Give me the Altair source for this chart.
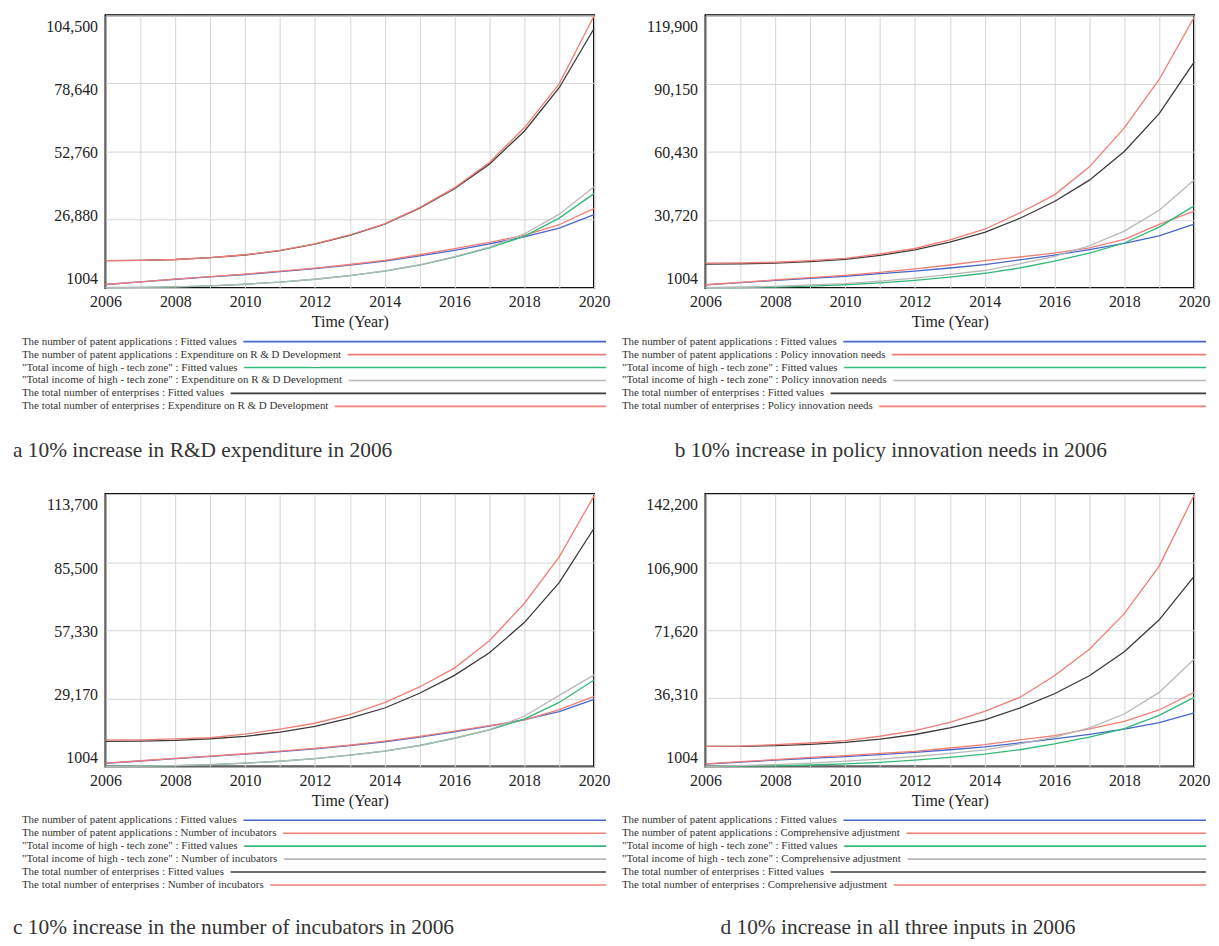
import altair as alt
import pandas as pd

# ---------------- data ----------------
years = list(range(2006, 2021))

patent_fitted = [2300, 3300, 4300, 5200, 6100, 7200, 8300, 9700, 11200, 13200, 15300, 17700, 20400, 23700, 28800]
income_fitted = [1100, 1200, 1400, 1800, 2400, 3200, 4300, 5700, 7400, 9700, 12700, 16200, 20600, 27500, 36800]
enterprises_fitted = [11400, 11500, 11800, 12500, 13500, 15200, 17600, 21000, 25200, 31300, 38700, 48000, 60500, 77000, 99500]

# a: R&D expenditure
patent_a = [2300, 3300, 4350, 5300, 6250, 7350, 8500, 9900, 11500, 13600, 15900, 18300, 21000, 25000, 31200]
income_a = [1100, 1200, 1400, 1800, 2400, 3200, 4300, 5700, 7500, 9800, 12900, 16500, 21500, 29000, 39400]
enterprises_a = [11400, 11500, 11800, 12500, 13600, 15300, 17700, 21100, 25300, 31500, 39000, 48600, 61800, 78500, 104300]

# b: policy innovation needs
patent_b = [2400, 3400, 4500, 5500, 6500, 7800, 9300, 11000, 12900, 14500, 16200, 18500, 22200, 28700, 34500]
income_b = [1100, 1300, 1700, 2300, 2900, 4000, 5300, 6900, 8600, 11500, 14800, 19400, 25800, 34900, 48100]
enterprises_b = [11800, 11900, 12200, 12900, 13900, 15800, 18200, 22000, 26600, 33700, 41600, 53800, 70800, 91900, 119000]

# c: number of incubators
patent_c = [2400, 3400, 4400, 5300, 6300, 7400, 8500, 9900, 11500, 13500, 15600, 17900, 20200, 24500, 30000]
income_c = [1100, 1200, 1400, 1800, 2400, 3200, 4300, 5700, 7400, 9700, 12800, 16300, 21800, 30400, 38900]
enterprises_c = [12000, 12000, 12400, 12900, 14400, 16500, 18900, 22500, 27400, 33900, 41700, 53000, 68400, 87700, 112900]

# d: all three inputs
patent_d = [2400, 3500, 4600, 5700, 6700, 7800, 8900, 10600, 12400, 14800, 17000, 20500, 24400, 30300, 39400]
income_d = [1100, 1500, 2000, 2800, 3800, 4900, 6200, 7800, 9600, 12700, 16200, 21000, 28200, 39400, 56600]
enterprises_d = [11400, 11600, 12400, 13200, 14400, 16700, 19600, 23900, 29600, 36800, 48000, 61800, 80200, 104800, 141500]

ticks_a = [1004, 26880, 52760, 78640, 104500]
ticks_b = [1004, 30720, 60430, 90150, 119900]
ticks_c = [1004, 29170, 57330, 85500, 113700]
ticks_d = [1004, 36310, 71620, 106900, 142200]
tick_labels_a = ["1004", "26,880", "52,760", "78,640", "104,500"]
tick_labels_b = ["1004", "30,720", "60,430", "90,150", "119,900"]
tick_labels_c = ["1004", "29,170", "57,330", "85,500", "113,700"]
tick_labels_d = ["1004", "36,310", "71,620", "106,900", "142,200"]

prefixes = ["The number of patent applications",
            "\"Total income of high - tech zone\"",
            "The total number of enterprises"]
scenario_names = ["Expenditure on R & D Development", "Policy innovation needs",
                  "Number of incubators", "Comprehensive adjustment"]
captions = ["a 10% increase in R&D expenditure in 2006",
            "b 10% increase in policy innovation needs in 2006",
            "c 10% increase in the number of incubators in 2006",
            "d 10% increase in all three inputs in 2006"]
x_title = "Time (Year)"

# ---------------- style ----------------
COLORS = ["#4766cc", "#f07e76", "#33b977", "#b8b8b8", "#3a3a3a", "#f07e76"]
FONT = "Liberation Serif"
W, H = 491, 274


def panel(scen_name, scen, ticks, tick_labels, caption, cap_dx, cap_y):
    labels = []
    for p in prefixes:
        labels += [f"{p} : Fitted values", f"{p} : {scen_name}"]
    series = [patent_fitted, scen[0], income_fitted, scen[1], enterprises_fitted, scen[2]]
    rows = []
    for k, (lab, vals) in enumerate(zip(labels, series)):
        for yr, v in zip(years, vals):
            rows.append({"series": lab, "k": k, "year": yr, "value": v})
    df = pd.DataFrame(rows)

    lo, hi = ticks[0], ticks[-1]
    expr = ""
    for t, l in zip(ticks, tick_labels):
        expr += f"datum.value == {t} ? '{l}' : "
    expr += "''"
    off_expr = f"-9 + 20 * (datum.value - {lo}) / ({hi - lo})"

    color = alt.Color("series:N", scale=alt.Scale(domain=labels, range=COLORS), legend=None)

    lines = alt.Chart(df).mark_line(strokeWidth=1.3).encode(
        x=alt.X("year:Q", scale=alt.Scale(domain=[2006, 2020], nice=False, zero=False),
                axis=alt.Axis(values=years, format="d",
                              labelExpr="datum.value % 2 == 0 ? datum.label : ''",
                              title=x_title, grid=True, labelFlush=False,
                              labelOverlap=False, labelPadding=6, titlePadding=4)),
        y=alt.Y("value:Q", scale=alt.Scale(domain=[lo, hi], nice=False, zero=False),
                axis=alt.Axis(values=ticks, labelExpr=expr, title=None, grid=True,
                              labelFlush=False, labelOverlap=False, labelPadding=8,
                              labelOffset={"expr": off_expr})),
        color=color,
        detail="k:O",
    )

    leg_df = pd.DataFrame({"series": labels, "row": list(range(6))})
    ly = alt.Y("row:Q", scale=alt.Scale(domain=[0, 5], range=[H + 54, H + 119]), axis=None)
    rules = alt.Chart(leg_df).mark_rule(strokeWidth=1.6).encode(
        x=alt.value(-84), x2=alt.value(W + 12), y=ly, color=color)
    halo = alt.Chart(leg_df).mark_text(
        align="left", baseline="middle", font=FONT, fontSize=11,
        fill="white", stroke="white", strokeWidth=14, strokeJoin="round").encode(
        x=alt.value(-84), y=ly, text="series:N")
    txt = alt.Chart(leg_df).mark_text(
        align="left", baseline="middle", font=FONT, fontSize=11, color="#333").encode(
        x=alt.value(-84), y=ly, text="series:N")
    cap = alt.Chart(pd.DataFrame({"t": [caption]})).mark_text(
        align="left", baseline="alphabetic", font=FONT, fontSize=21.5, color="#333").encode(
        x=alt.value(cap_dx), y=alt.value(cap_y), text="t:N")

    return alt.layer(lines, rules, halo, txt, cap).resolve_scale(y="independent").properties(
        width=W, height=H)


pa = panel(scenario_names[0], [patent_a, income_a, enterprises_a], ticks_a, tick_labels_a,
           captions[0], -93, H + 170)
pb = panel(scenario_names[1], [patent_b, income_b, enterprises_b], ticks_b, tick_labels_b,
           captions[1], -31, H + 170)
pc = panel(scenario_names[2], [patent_c, income_c, enterprises_c], ticks_c, tick_labels_c,
           captions[2], -93, H + 168)
pd_ = panel(scenario_names[3], [patent_d, income_d, enterprises_d], ticks_d, tick_labels_d,
            captions[3], 15, H + 168)

chart = alt.concat(pa, pb, pc, pd_, columns=2, spacing={"row": 207, "column": 112},
                   bounds="flush").resolve_scale(color="independent").properties(
    padding={"left": 4, "top": 1, "right": 0, "bottom": 0},
    background="white",
).configure_view(
    stroke="black", strokeWidth=2
).configure_axis(
    labelFont=FONT, labelFontSize=16, labelColor="#222",
    titleFont=FONT, titleFontSize=16, titleFontWeight="normal", titleColor="#222",
    gridColor="#d6d6d6", gridWidth=1, domain=False, ticks=False,
)

chart.save("out.html", embed_options={"renderer": "svg", "actions": False})
